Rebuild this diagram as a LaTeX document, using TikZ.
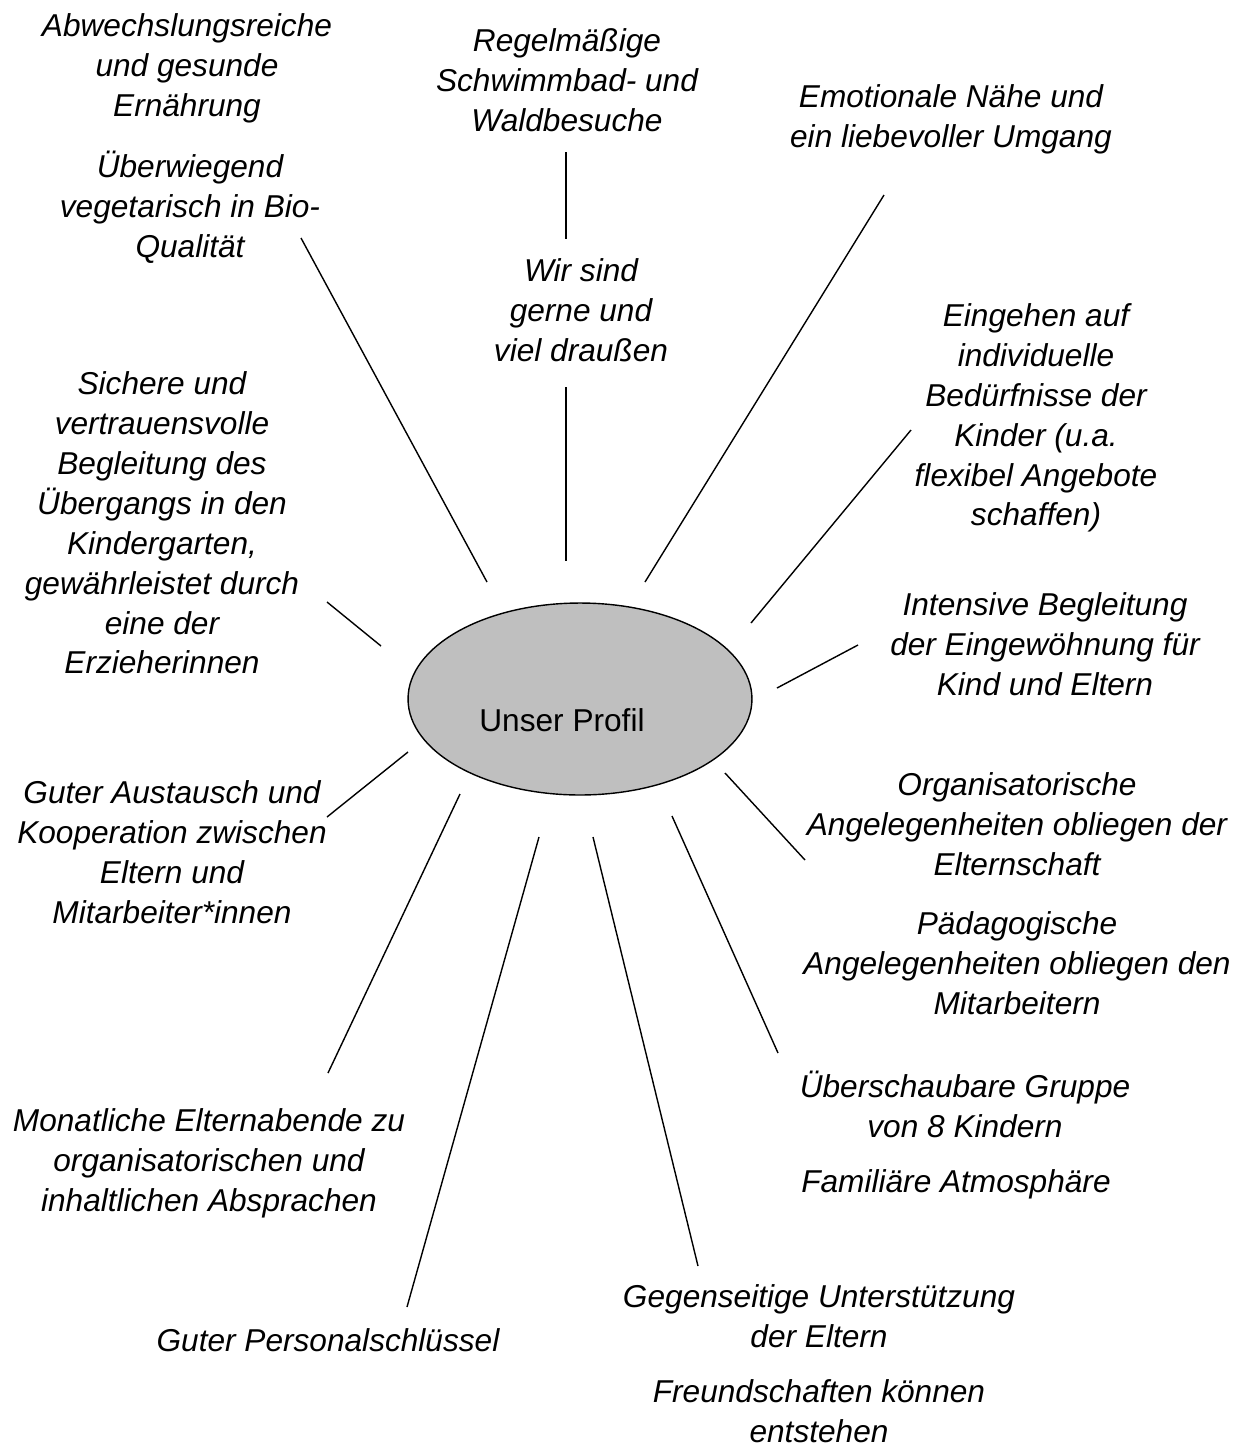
\documentclass[tikz,border=0pt]{standalone}
\usepackage{fontspec}
\setmainfont{Liberation Sans}
\usetikzlibrary{shapes.geometric}

\begin{document}
\begin{tikzpicture}[x=0.02cm, y=-0.02cm, line width=0.8pt,
    tnode/.style={align=center, inner sep=0pt, font=\itshape\fontsize{18}{22.7}\selectfont},
    pnode/.style={draw, ellipse, fill=black!25, inner sep=0pt, minimum width=6.88cm, minimum height=3.84cm}]
    \useasboundingbox (0, 0) rectangle (1249, 1448);

    \node[pnode] (profil) at (580, 699) {};
    \node (profiltext) at (562, 720) [font=\fontsize{18}{22.7}\selectfont] {Unser Profil};

    \node (ern) at (187, 68) [tnode] {Abwechslungsreiche\\und gesunde\\Ernährung};
    \node (veg) at (190, 207) [tnode] {Überwiegend\\vegetarisch in Bio-\\Qualität};
    \node (bad) at (567, 80) [tnode] {Regelmäßige\\Schwimmbad- und\\Waldbesuche};
    \node (emo) at (951, 119) [tnode] {Emotionale Nähe und\\ein liebevoller Umgang};
    \node (wir) at (581, 310) [tnode] {Wir sind\\gerne und\\viel draußen};
    \node (ein) at (1036, 418) [tnode] {Eingehen auf\\individuelle\\Bedürfnisse der\\Kinder (u.a.\\flexibel Angebote\\schaffen)};
    \node (sich) at (162, 523) [tnode] {Sichere und\\vertrauensvolle\\Begleitung des\\Übergangs in den\\Kindergarten,\\gewährleistet durch\\eine der\\Erzieherinnen};
    \node (int) at (1045, 644) [tnode] {Intensive Begleitung\\der Eingewöhnung für\\Kind und Eltern};
    \node (aus) at (172, 852) [tnode] {Guter Austausch und\\Kooperation zwischen\\Eltern und\\Mitarbeiter*innen};
    \node (org) at (1017, 824) [tnode] {Organisatorische\\Angelegenheiten obliegen der\\Elternschaft};
    \node (paed) at (1017, 963) [tnode] {Pädagogische\\Angelegenheiten obliegen den\\Mitarbeitern};
    \node (grp) at (965, 1104) [tnode] {Überschaubare Gruppe\\von 8 Kindern};
    \node (fam) at (956, 1184) [tnode] {Familiäre Atmosphäre};
    \node (mon) at (209, 1163) [tnode] {Monatliche Elternabende zu\\organisatorischen und\\inhaltlichen Absprachen};
    \node (geg) at (819, 1316) [tnode] {Gegenseitige Unterstützung\\der Eltern};
    \node (pers) at (328, 1340) [tnode] {Guter Personalschlüssel};
    \node (freu) at (819, 1411) [tnode] {Freundschaften können\\entstehen};

    \coordinate (vegA) at (301, 238);   \coordinate (vegB) at (487, 582);
    \coordinate (wirA) at (566, 152);   \coordinate (wirB) at (566, 239);
    \coordinate (wirC) at (566, 387);   \coordinate (wirD) at (566, 561);
    \coordinate (emoA) at (884, 195);   \coordinate (emoB) at (645, 582);
    \coordinate (einA) at (911, 430);   \coordinate (einB) at (751, 623);
    \coordinate (sichA) at (327, 602);  \coordinate (sichB) at (381, 646);
    \coordinate (intA) at (858, 645);   \coordinate (intB) at (777, 688);
    \coordinate (ausA) at (408, 752);   \coordinate (ausB) at (327, 817);
    \coordinate (orgA) at (725, 773);   \coordinate (orgB) at (805, 860);
    \coordinate (paedA) at (672, 816);  \coordinate (paedB) at (778, 1053);
    \coordinate (monA) at (460, 794);   \coordinate (monB) at (328, 1073);
    \coordinate (persA) at (539, 837);  \coordinate (persB) at (407, 1307);
    \coordinate (gegA) at (593, 837);   \coordinate (gegB) at (698, 1266);

    \draw (vegA) -- (vegB) ;
    \draw (wirA) -- (wirB) ;
    \draw (wirC) -- (wirD) ;
    \draw (emoA) -- (emoB) ;
    \draw (einA) -- (einB) ;
    \draw (sichA) -- (sichB) ;
    \draw (intA) -- (intB) ;
    \draw (ausA) -- (ausB) ;
    \draw (orgA) -- (orgB) ;
    \draw (paedA) -- (paedB) ;
    \draw (monA) -- (monB) ;
    \draw (persA) -- (persB) ;
    \draw (gegA) -- (gegB) ;

\end{tikzpicture}
\end{document}
